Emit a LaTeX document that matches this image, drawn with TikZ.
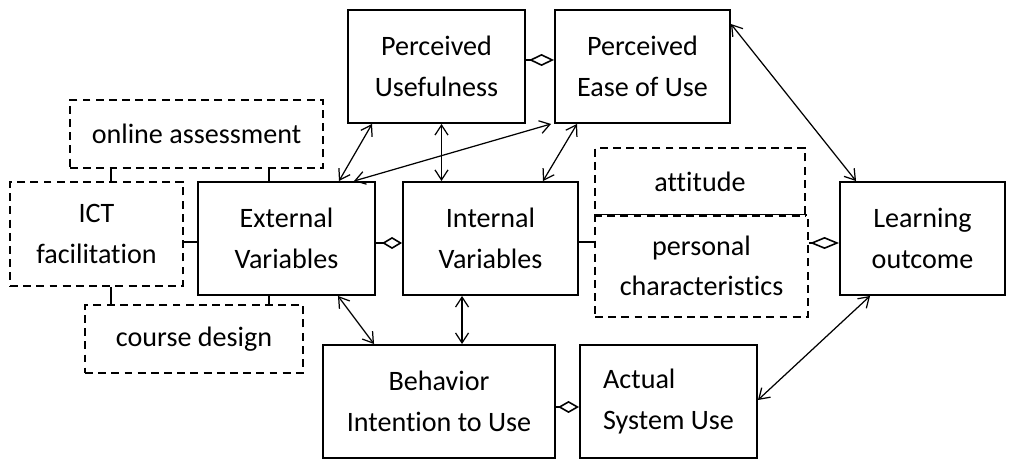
\documentclass[tikz,border=0pt]{standalone}
\usepackage{fontspec}
\setmainfont{Carlito}[RawFeature = {-liga,-clig,-calt,-dlig}]
\usetikzlibrary{arrows.meta}

\begin{document}
\begin{tikzpicture}[
      construct/.style={
        draw,
        line width = 1.1pt,
        minimum width = 35.4mm,
        minimum height = 22.6mm,
        align = center,
        inner sep = 0pt,
        font = \fontsize{16}{23}\selectfont,
      },
      factor/.style={construct, dash pattern = on 4.5pt off 3pt},
      link edge/.style={
        {Straight Barb[length = 2mm, width = 2.6mm]}-{Straight Barb[length = 2mm, width = 2.6mm]},
        line width = 0.7pt,
      },
      assoc edge/.style={-{Diamond[open, length = #1, width = 2.4mm]}, line width = 0.9pt},
      assoc edge/.default = 4.5mm,
      tie/.style={line width = 0.8pt},
    ]
    \useasboundingbox (0, 0) rectangle (203.2mm, -92.2mm);

    \node[construct] (pu) at (87.3mm, -13.3mm) {Perceived\\Usefulness};
    \node[construct, minimum width = 35mm] (pe) at (128.5mm, -13.3mm) {Perceived\\Ease of Use};

    \node[factor, minimum width = 50.6mm, minimum height = 13.6mm] (oa) at (39.3mm, -26.8mm)
      {online assessment};
    \node[factor, minimum width = 34.6mm, minimum height = 20.8mm] (ict) at (19.3mm, -46.8mm)
      {ICT\\facilitation};
    \node[factor, minimum width = 43.6mm, minimum height = 13.6mm] (cd) at (38.8mm, -67.8mm)
      {course design};

    \node[construct] (ev) at (57.3mm, -47.7mm) {External\\Variables};
    \node[construct, minimum width = 35mm] (iv) at (98.1mm, -47.7mm) {Internal\\Variables};

    \node[factor, minimum width = 42.6mm, minimum height = 20.4mm] (pc) at (140.3mm, -53.2mm)
      {personal\\characteristics};
    \node[factor, minimum width = 42mm, minimum height = 13.4mm] (att) at (140mm, -36.3mm)
      {attitude};
    % the two stacked factors share one dashed edge
    \draw[white, line width = 1.6pt] (att.south west) -- (att.south east);
    \draw[line width = 1.1pt, dash pattern = on 4.5pt off 3pt] (att.south west) -- (att.south east);

    \node[construct, minimum width = 33mm] (lo) at (184.5mm, -47.7mm) {Learning\\outcome};

    \node[construct, minimum width = 46.4mm] (bi) at (87.8mm, -80.3mm) {Behavior\\Intention to Use};
    \node[construct, align = left] (asu) at (133.7mm, -80.3mm) {Actual\\System Use};

    % Diamonds join neighbouring constructs, plain lines tie the dashed factors on.
    \draw[assoc edge = 5mm] ([yshift = 1.3mm]pu.east) -- ([yshift = 1.3mm]pe.west);
    \draw[assoc edge = 4mm] ([yshift = -0.9mm]ev.east) -- ([yshift = -0.9mm]iv.west);
    \draw[assoc edge = 5.8mm] ([yshift = -0.9mm]lo.west -| pc.east) -- ([yshift = -0.9mm]lo.west);
    \draw[assoc edge = 4.2mm] ([yshift = -1.1mm]bi.east) -- ([yshift = -1.1mm]asu.west);

    \draw[tie] ([xshift = 20.4mm]ict.north west) -- ([xshift = 20.4mm]ict.north west |- oa.south);
    \draw[tie] ([xshift = 14.4mm]ev.north west) -- ([xshift = 14.4mm]ev.north west |- oa.south);
    \draw[tie] ([xshift = 20.4mm]ict.south west) -- ([xshift = 20.4mm]ict.south west |- cd.north);
    \draw[tie] ([xshift = 14.4mm]ev.south west) -- ([xshift = 14.4mm]ev.south west |- cd.north);
    \draw[tie] ([yshift = -0.7mm]ev.west) -- ([yshift = -0.7mm]ev.west -| ict.east);
    \draw[tie] ([yshift = -0.7mm]iv.east) -- ([yshift = -0.7mm]iv.east -| pc.west);

    \draw[link edge] ([xshift = 5mm]pu.south west) -- ([xshift = -7.4mm]ev.north east);
    \draw[link edge] ([xshift = 1mm]pu.south) -- ([xshift = 1mm]pu.south |- iv.north);
    \draw[link edge] ([xshift = -0.6mm]pe.south west) -- ([xshift = -4.4mm]ev.north east);
    \draw[link edge] ([xshift = 4.6mm]pe.south west) -- ([xshift = -7.2mm]iv.north east);
    \draw[link edge] ([yshift = -3mm]pe.north east) -- ([xshift = 3.4mm]lo.north west);
    \draw[link edge] ([xshift = -7.6mm]ev.south east) -- ([xshift = 10.4mm]bi.north west);
    \draw[link edge] ([xshift = 12mm]iv.south west) -- ([xshift = 12mm]iv.south west |- bi.north);
    \draw[link edge] ([yshift = 0.3mm]asu.east) -- ([xshift = 6.2mm]lo.south west);
  \end{tikzpicture}
\end{document}
